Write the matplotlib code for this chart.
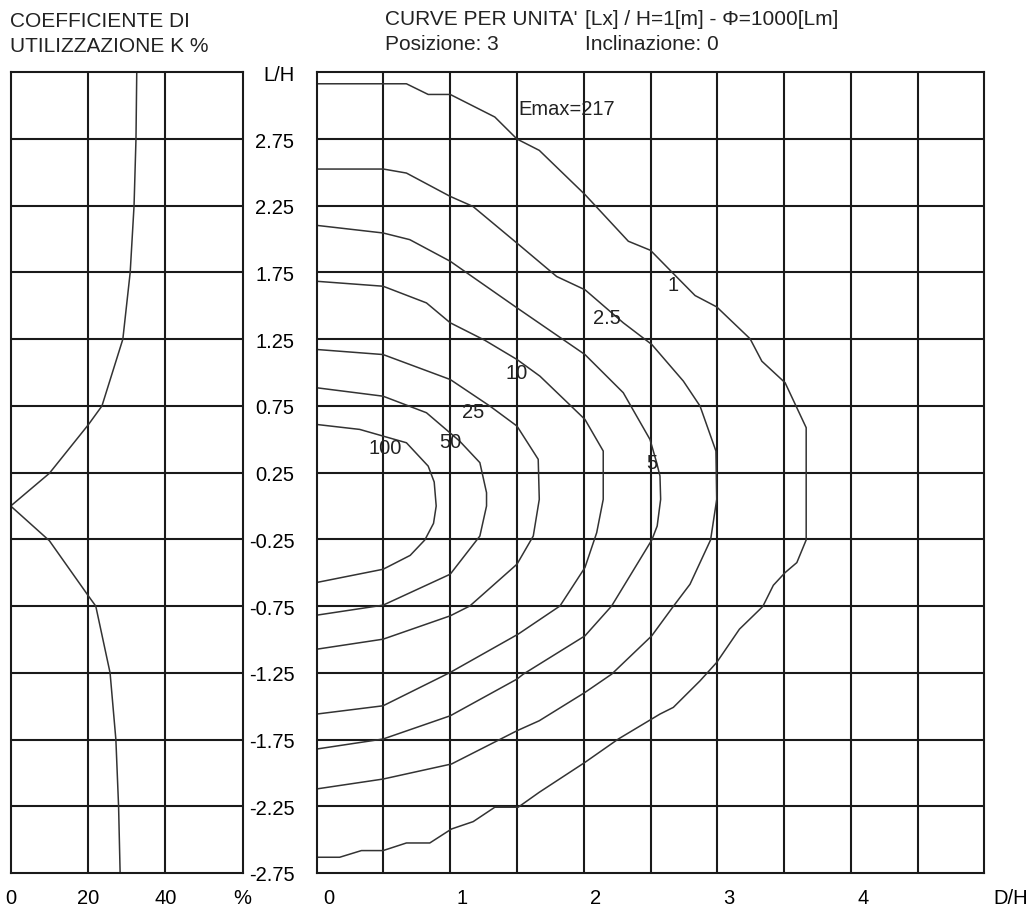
import matplotlib
matplotlib.use("Agg")
import matplotlib.pyplot as plt
import matplotlib.transforms as mtransforms

plt.rcParams['font.family'] = ['Liberation Sans', 'DejaVu Sans']
plt.rcParams['font.size'] = 14

# utilization coefficient K % vs L/H (left panel)
k_pct = [32.6, 32.4, 31.9, 30.9, 29.0, 23.6, 20.1, 10.0, 0.0, 10.0, 20.0, 22.0, 25.7, 27.2, 27.9, 28.3]
k_lh = [3.25, 2.75, 2.25, 1.75, 1.25, 0.75, 0.61, 0.245, 0.0, -0.26, -0.67, -0.75, -1.25, -1.75, -2.25, -2.75]

# iso-lux curves (right panel), D/H and L/H
iso1_x = [0, 0.672, 0.835, 1.0, 1.334, 1.50, 1.667, 2.01, 2.334, 2.50, 2.666, 2.834, 2.996, 3.246, 3.334,
          3.508, 3.666, 3.666, 3.596, 3.508, 3.42, 3.341, 3.166, 2.996, 2.871, 2.671, 2.571, 2.259, 2.009,
          1.667, 1.509, 1.334, 1.172, 1.01, 0.847, 0.672, 0.497, 0.335, 0.172, 0]
iso1_y = [3.164, 3.164, 3.084, 3.084, 2.915, 2.75, 2.665, 2.333, 1.984, 1.916, 1.747, 1.577, 1.492, 1.253, 1.085,
          0.924, 0.587, -0.254, -0.424, -0.499, -0.594, -0.753, -0.923, -1.172, -1.31, -1.509, -1.559, -1.746, -1.921,
          -2.145, -2.257, -2.257, -2.365, -2.42, -2.525, -2.525, -2.582, -2.582, -2.632, -2.632]

iso2_5_x = [0, 0.50, 0.672, 1.0, 1.17, 1.50, 1.797, 2.01, 2.296, 2.51, 2.746, 2.871, 2.99, 2.996, 2.95,
            2.796, 2.67, 2.509, 2.209, 2.009, 1.667, 1.50, 1.01, 0.497, 0]
iso2_5_y = [2.525, 2.525, 2.495, 2.32, 2.245, 1.97, 1.72, 1.62, 1.373, 1.21, 0.936, 0.749, 0.412, 0.05, -0.254,
            -0.586, -0.753, -0.973, -1.26, -1.397, -1.609, -1.684, -1.933, -2.046, -2.12]

iso5_x = [0, 0.497, 0.697, 1.0, 1.50, 2.009, 2.296, 2.496, 2.546, 2.571, 2.576, 2.55, 2.51, 2.209, 2.009,
          1.547, 1.50, 1.0, 0.497, 0]
iso5_y = [2.103, 2.046, 1.996, 1.834, 1.485, 1.135, 0.849, 0.499, 0.325, 0.225, 0.05, -0.15, -0.254, -0.749, -0.973,
          -1.26, -1.297, -1.572, -1.746, -1.821]

iso10_x = [0, 0.497, 0.822, 1.0, 1.259, 1.50, 1.672, 2.009, 2.146, 2.146, 2.097, 2.009, 1.822, 1.509, 1.0, 0.497, 0]
iso10_y = [1.684, 1.647, 1.522, 1.373, 1.242, 1.098, 0.973, 0.649, 0.412, 0.05, -0.2, -0.461, -0.749, -0.96,
           -1.247, -1.497, -1.559]

iso25_x = [0, 0.497, 1.0, 1.297, 1.50, 1.659, 1.667, 1.622, 1.50, 1.147, 1.0, 0.497, 0]
iso25_y = [1.173, 1.135, 0.948, 0.749, 0.599, 0.35, 0.05, -0.225, -0.436, -0.749, -0.823, -0.998, -1.073]

iso50_x = [0, 0.497, 0.822, 1.07, 1.222, 1.272, 1.272, 1.222, 1.0, 0.497, 0]
iso50_y = [0.886, 0.823, 0.699, 0.487, 0.325, 0.1, 0.0, -0.225, -0.511, -0.743, -0.818]

iso100_x = [0, 0.322, 0.672, 0.835, 0.88, 0.895, 0.875, 0.81, 0.70, 0.497, 0]
iso100_y = [0.611, 0.574, 0.474, 0.299, 0.18, 0.0, -0.13, -0.254, -0.37, -0.474, -0.573]

iso_labels = ['1', '2.5', '5', '10', '25', '50', '100']
label_x = [2.67, 2.17, 2.51, 1.497, 1.172, 1.0, 0.51]
label_y = [1.66, 1.41, 0.325, 1.0, 0.711, 0.487, 0.437]

lh_ticks = [-2.75, -2.25, -1.75, -1.25, -0.75, -0.25, 0.25, 0.75, 1.25, 1.75, 2.25, 2.75, 3.25]
lh_labels = ['-2.75', '-2.25', '-1.75', '-1.25', '-0.75', '-0.25', '0.25', '0.75', '1.25', '1.75', '2.25', '2.75', 'L/H']
k_ticks = [0, 20, 40, 60]
k_labels = ['0', '20', '40', '%']
dh_ticks = [0, 1, 2, 3, 4, 5]
dh_labels = ['0', '1', '2', '3', '4', 'D/H']
dh_grid = [0.5, 1, 1.5, 2, 2.5, 3, 3.5, 4, 4.5]

W, H = 1029, 912
fig = plt.figure(figsize=(W / 100, H / 100), dpi=100)
grid_kw = dict(color='#1a1a1a', lw=1.5)
tick_fs = 14.5
head_fs = 15

# left panel
axl = fig.add_axes([10.7 / W, 38 / H, 232 / W, 800.7 / H])
axl.set_xlim(0, 60)
axl.set_ylim(-2.75, 3.25)
for v in [20, 40]:
    axl.axvline(v, **grid_kw)
for v in lh_ticks[1:-1]:
    axl.axhline(v, **grid_kw)
axl.plot(k_pct, k_lh, color='#333333', lw=1.1)
axl.set_xticks(k_ticks)
axl.set_xticklabels(k_labels, fontsize=tick_fs)
axl.set_yticks([])
axl.tick_params(axis='x', length=0, pad=11)

# right panel
axr = fig.add_axes([316.7 / W, 38 / H, 667.6 / W, 800.7 / H])
axr.set_xlim(0, 5)
axr.set_ylim(-2.75, 3.25)
for v in dh_grid:
    axr.axvline(v, **grid_kw)
for v in lh_ticks[1:-1]:
    axr.axhline(v, **grid_kw)

curves_x = [iso1_x, iso2_5_x, iso5_x, iso10_x, iso25_x, iso50_x, iso100_x]
curves_y = [iso1_y, iso2_5_y, iso5_y, iso10_y, iso25_y, iso50_y, iso100_y]
for cx, cy in zip(curves_x, curves_y):
    axr.plot(cx, cy, color='#333333', lw=1.1)
for t, lx, ly in zip(iso_labels, label_x, label_y):
    axr.text(lx, ly, t, ha='center', va='center', fontsize=tick_fs, color='#222222')
axr.text(1.51, 2.98, 'Emax=217', ha='left', va='center', fontsize=tick_fs, color='#222222')

axr.set_xticks(dh_ticks)
axr.set_xticklabels(dh_labels, fontsize=tick_fs)
axr.set_yticks(lh_ticks)
axr.set_yticklabels(lh_labels, fontsize=tick_fs)
axr.tick_params(axis='x', length=0, pad=11)
axr.tick_params(axis='y', length=0, pad=16)

# shift the D/H tick labels to the right as in the original
for i, lab in enumerate(axr.get_xticklabels()):
    dx = 26 if i == len(dh_labels) - 1 else 12
    off = mtransforms.ScaledTranslation(dx / 100, 0, fig.dpi_scale_trans)
    lab.set_transform(lab.get_transform() + off)

for ax in (axl, axr):
    for s in ax.spines.values():
        s.set_linewidth(1.5)
        s.set_color('#1a1a1a')

# headers
fig.text(10.5 / W, 1 - 26.7 / H, 'COEFFICIENTE DI', fontsize=head_fs, va='baseline', color='#222222')
fig.text(10.5 / W, 1 - 51.7 / H, 'UTILIZZAZIONE K %', fontsize=head_fs, va='baseline', color='#222222')
fig.text(385 / W, 1 - 25 / H, "CURVE PER UNITA'", fontsize=head_fs, va='baseline', color='#222222')
fig.text(585 / W, 1 - 25 / H, '[Lx] / H=1[m] - \u03a6=1000[Lm]', fontsize=head_fs, va='baseline', color='#222222')
fig.text(385 / W, 1 - 49.5 / H, 'Posizione: 3', fontsize=head_fs, va='baseline', color='#222222')
fig.text(585 / W, 1 - 49.5 / H, 'Inclinazione: 0', fontsize=head_fs, va='baseline', color='#222222')

fig.savefig('out.png', dpi=100)
